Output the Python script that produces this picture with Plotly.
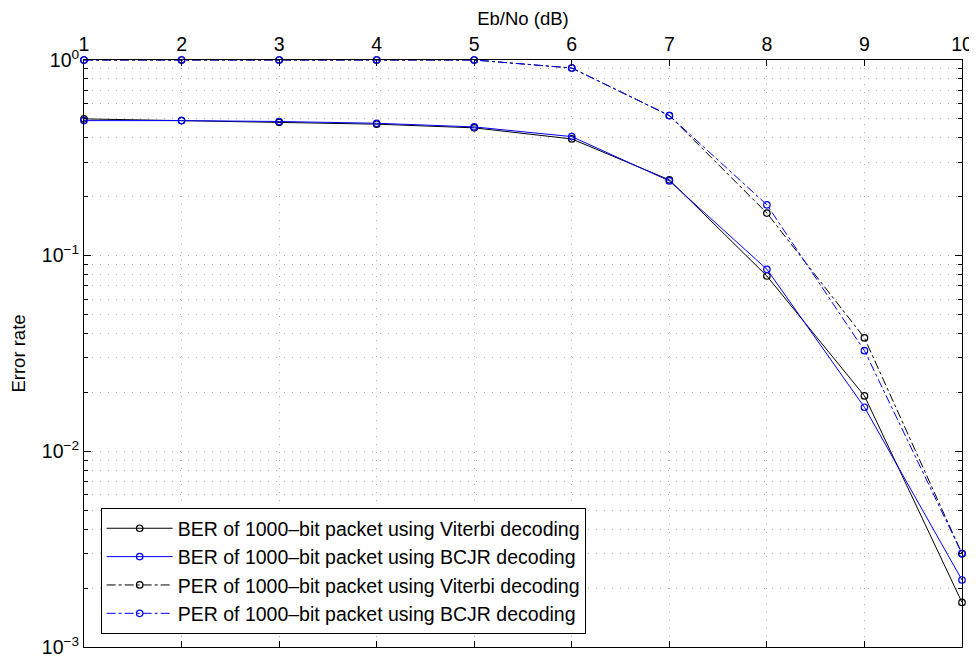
import plotly.graph_objects as go

ebno = [1, 2, 3, 4, 5, 6, 7, 8, 9, 10]
ber_viterbi = [0.50, 0.49, 0.48, 0.47, 0.45, 0.395, 0.244, 0.0787, 0.0192, 0.00169]
ber_bcjr = [0.49, 0.49, 0.485, 0.475, 0.455, 0.406, 0.241, 0.0852, 0.0168, 0.0022]
per_viterbi = [1.0, 1.0, 1.0, 1.0, 1.0, 0.91, 0.52, 0.165, 0.038, 0.0030]
per_bcjr = [1.0, 1.0, 1.0, 1.0, 1.0, 0.91, 0.52, 0.182, 0.0327, 0.0030]

names = ["BER of 1000\u2013bit packet using Viterbi decoding",
         "BER of 1000\u2013bit packet using BCJR decoding",
         "PER of 1000\u2013bit packet using Viterbi decoding",
         "PER of 1000\u2013bit packet using BCJR decoding"]

ytick_vals = [1e-3, 1e-2, 1e-1, 1e0]
ytick_text = ["10<sup>\u22123</sup>", "10<sup>\u22122</sup>", "10<sup>\u22121</sup>", "10<sup>0</sup>"]
minor_mant = [2, 3, 4, 5, 6, 7, 8, 9]
minor_vals = [m * d for d in [1e-3, 1e-2, 1e-1] for m in minor_mant]

FONT = "Liberation Sans, Arial, Helvetica, sans-serif"
GRID = "#b0b0b0"
GDASH = "1px,7px"

series = [
    (ber_viterbi, "black", "solid"),
    (ber_bcjr, "blue", "solid"),
    (per_viterbi, "black", "dashdot"),
    (per_bcjr, "blue", "dashdot"),
]

fig = go.Figure()
for (vals, col, dash), nm in zip(series, names):
    fig.add_trace(go.Scatter(
        x=ebno, y=vals, name=nm, mode="lines+markers",
        line=dict(color=col, width=1, dash=dash),
        marker=dict(symbol="circle-open", size=6.5, color=col, line=dict(width=1.2, color=col)),
        cliponaxis=False,
    ))

# page body has an 8px margin, so the figure is sized and offset to compensate
fig.update_layout(
    width=969, height=649,
    margin=dict(l=76, r=15, t=52, b=10),
    paper_bgcolor="white", plot_bgcolor="white",
    font=dict(family=FONT, size=19, color="black"),
    showlegend=True,
    legend=dict(
        x=0.019, y=0.022, xanchor="left", yanchor="bottom",
        bgcolor="white", bordercolor="black", borderwidth=1,
        font=dict(size=19.5, family=FONT), tracegroupgap=0,
        itemwidth=66,
    ),
    xaxis=dict(
        side="top", range=[1, 10], tickvals=ebno, ticktext=[str(v) for v in ebno],
        title=dict(text="Eb/No (dB)", font=dict(size=18.5), standoff=4),
        showline=True, linecolor="black", linewidth=1, mirror="ticks",
        ticks="inside", ticklen=6, tickcolor="black",
        showgrid=True, gridcolor=GRID, griddash=GDASH, gridwidth=1,
        zeroline=False, tickfont=dict(size=19.5), automargin=False,
        ticklabeloverflow="allow",
    ),
    yaxis=dict(
        type="log", range=[-3, 0], tickvals=ytick_vals, ticktext=ytick_text,
        title=dict(text="Error rate", font=dict(size=18.5), standoff=12),
        showline=True, linecolor="black", linewidth=1, mirror="ticks",
        ticks="inside", ticklen=7, tickcolor="black",
        showgrid=True, gridcolor=GRID, griddash=GDASH, gridwidth=1,
        zeroline=False, tickfont=dict(size=19.5), automargin=False,
        ticklabeloverflow="allow",
        minor=dict(tickvals=minor_vals, ticks="inside", ticklen=4, tickcolor="black",
                   showgrid=True, gridcolor=GRID, griddash=GDASH, gridwidth=1),
    ),
)

fig.write_html("out.html")
